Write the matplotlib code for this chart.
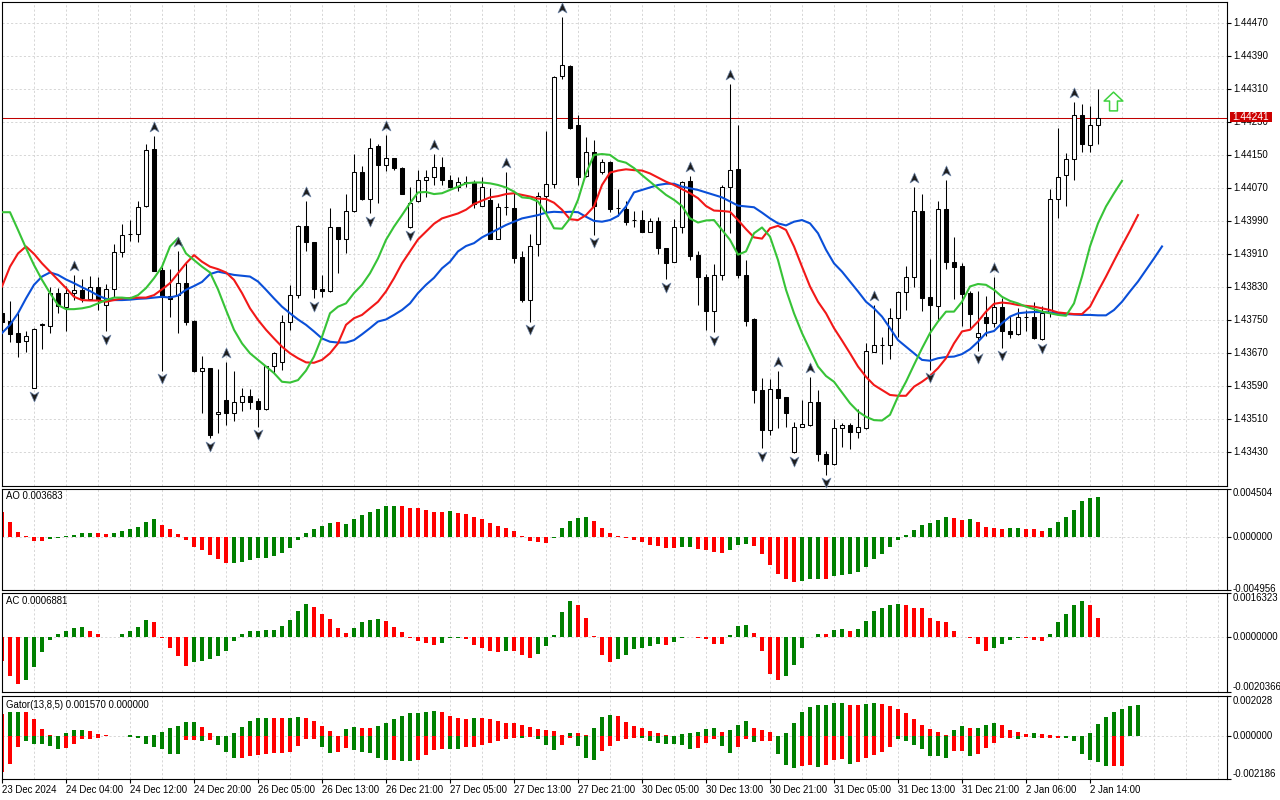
import matplotlib
matplotlib.use("Agg")
import matplotlib.pyplot as plt
import numpy as np
from matplotlib.path import Path
from matplotlib.patches import Rectangle
from matplotlib import transforms

plt.rcParams['font.family'] = ['Liberation Sans', 'DejaVu Sans']

# ---------------- data (H1 candles) ----------------
opens = [1.43767, 1.43748, 1.43718, 1.43699, 1.43587, 1.43739, 1.43736, 1.43816, 1.43782, 1.43816,
         1.43823, 1.43801, 1.43830, 1.43786, 1.43825, 1.43915, 1.43958, 1.43958, 1.44026, 1.44165,
         1.43872, 1.43809, 1.43811, 1.43841, 1.43748, 1.43627, 1.43635, 1.43522, 1.43557, 1.43525,
         1.43553, 1.43566, 1.43554, 1.43534, 1.43638, 1.43648, 1.43745, 1.43811, 1.43978, 1.43939,
         1.43826, 1.43820, 1.43975, 1.43946, 1.44014, 1.44109, 1.44043, 1.44173, 1.44126, 1.44143,
         1.44119, 1.43975, 1.44038, 1.44089, 1.44097, 1.44121, 1.44090, 1.44074, 1.44086, 1.44084,
         1.44028, 1.44042, 1.43948, 1.44024, 1.44022, 1.43904, 1.43799, 1.43934, 1.44052, 1.44080,
         1.44341, 1.44367, 1.44223, 1.44100, 1.44159, 1.44110, 1.44133, 1.44022, 1.44020, 1.43993,
         1.43993, 1.43965, 1.43991, 1.43925, 1.43892, 1.43975, 1.44088, 1.43908, 1.43856, 1.43773,
         1.43859, 1.44074, 1.44116, 1.43860, 1.43753, 1.43581, 1.43483, 1.43584, 1.43563, 1.43430,
         1.43492, 1.43496, 1.43551, 1.43426, 1.43401, 1.43488, 1.43495, 1.43478, 1.43488, 1.43674,
         1.43689, 1.43690, 1.43755, 1.43818, 1.43854, 1.44015, 1.43806, 1.43785, 1.44019, 1.43892,
         1.43882, 1.43816, 1.43709, 1.43759, 1.43744, 1.43782, 1.43724, 1.43716, 1.43759, 1.43757,
         1.43705, 1.43767, 1.44043, 1.44102, 1.44140, 1.44248, 1.44174, 1.44223]
highs = [1.43779, 1.43797, 1.43767, 1.43724, 1.43731, 1.43744, 1.43830, 1.43828, 1.43832, 1.43859,
         1.43849, 1.43858, 1.43856, 1.43838, 1.43934, 1.43984, 1.43993, 1.44038, 1.44178, 1.44197,
         1.43880, 1.43875, 1.43919, 1.43888, 1.43751, 1.43664, 1.43635, 1.43631, 1.43650, 1.43626,
         1.43585, 1.43584, 1.43561, 1.43639, 1.43674, 1.43763, 1.43836, 1.43980, 1.44040, 1.43940,
         1.43859, 1.44022, 1.43977, 1.44056, 1.44153, 1.44124, 1.44191, 1.44178, 1.44199, 1.44144,
         1.44121, 1.44072, 1.44114, 1.44114, 1.44153, 1.44145, 1.44102, 1.44098, 1.44100, 1.44090,
         1.44098, 1.44070, 1.44035, 1.44110, 1.44058, 1.43917, 1.43959, 1.44060, 1.44209, 1.44341,
         1.44486, 1.44369, 1.44248, 1.44195, 1.44187, 1.44140, 1.44135, 1.44068, 1.44038, 1.44016,
         1.44018, 1.43997, 1.44001, 1.43926, 1.43996, 1.44088, 1.44100, 1.43919, 1.43862, 1.43887,
         1.44078, 1.44323, 1.44224, 1.43895, 1.43755, 1.43609, 1.43608, 1.43627, 1.43565, 1.43504,
         1.43557, 1.43613, 1.43581, 1.43432, 1.43510, 1.43500, 1.43500, 1.43534, 1.43696, 1.43787,
         1.43709, 1.43779, 1.43822, 1.43882, 1.44074, 1.44056, 1.43899, 1.44039, 1.44089, 1.43951,
         1.43890, 1.43821, 1.43820, 1.43810, 1.43854, 1.43805, 1.43761, 1.43779, 1.43775, 1.43795,
         1.43785, 1.44068, 1.44215, 1.44155, 1.44280, 1.44274, 1.44270, 1.44310]
lows = [1.43739, 1.43698, 1.43660, 1.43674, 1.43585, 1.43681, 1.43720, 1.43767, 1.43725, 1.43799,
        1.43794, 1.43799, 1.43775, 1.43723, 1.43807, 1.43904, 1.43943, 1.43939, 1.44024, 1.43869,
        1.43628, 1.43759, 1.43719, 1.43739, 1.43624, 1.43526, 1.43464, 1.43476, 1.43496, 1.43507,
        1.43529, 1.43534, 1.43492, 1.43532, 1.43623, 1.43630, 1.43727, 1.43803, 1.43917, 1.43803,
        1.43807, 1.43818, 1.43864, 1.43912, 1.44013, 1.44042, 1.44009, 1.44034, 1.44113, 1.44114,
        1.44055, 1.43974, 1.44037, 1.44050, 1.44078, 1.44077, 1.44070, 1.44064, 1.44074, 1.44022,
        1.44026, 1.43946, 1.43947, 1.44005, 1.43890, 1.43795, 1.43747, 1.43907, 1.44009, 1.44070,
        1.44334, 1.44214, 1.44077, 1.44098, 1.43957, 1.44104, 1.44013, 1.44003, 1.43980, 1.43977,
        1.43963, 1.43963, 1.43911, 1.43849, 1.43891, 1.43961, 1.43895, 1.43786, 1.43727, 1.43721,
        1.43848, 1.43961, 1.43852, 1.43736, 1.43549, 1.43440, 1.43472, 1.43488, 1.43492, 1.43428,
        1.43491, 1.43494, 1.43409, 1.43375, 1.43399, 1.43444, 1.43437, 1.43464, 1.43487, 1.43672,
        1.43643, 1.43655, 1.43709, 1.43775, 1.43830, 1.43773, 1.43630, 1.43749, 1.43874, 1.43801,
        1.43736, 1.43731, 1.43676, 1.43713, 1.43733, 1.43684, 1.43706, 1.43714, 1.43724, 1.43705,
        1.43702, 1.43759, 1.43997, 1.44026, 1.44089, 1.44159, 1.44159, 1.44177]
closes = [1.43747, 1.43716, 1.43698, 1.43712, 1.43729, 1.43740, 1.43816, 1.43785, 1.43816, 1.43823,
          1.43803, 1.43830, 1.43801, 1.43825, 1.43915, 1.43956, 1.43958, 1.44024, 1.44162, 1.43870,
          1.43807, 1.43801, 1.43840, 1.43747, 1.43626, 1.43634, 1.43472, 1.43527, 1.43525, 1.43551,
          1.43566, 1.43553, 1.43534, 1.43638, 1.43670, 1.43745, 1.43811, 1.43978, 1.43939, 1.43825,
          1.43820, 1.43975, 1.43946, 1.44014, 1.44109, 1.44044, 1.44167, 1.44126, 1.44143, 1.44118,
          1.44056, 1.44035, 1.44089, 1.44097, 1.44121, 1.44089, 1.44072, 1.44086, 1.44084, 1.44032,
          1.44074, 1.43948, 1.44024, 1.44024, 1.43902, 1.43799, 1.43931, 1.44051, 1.44080, 1.44339,
          1.44368, 1.44215, 1.44098, 1.44159, 1.44028, 1.44133, 1.44020, 1.44022, 1.43989, 1.43992,
          1.43965, 1.43990, 1.43925, 1.43890, 1.43975, 1.44086, 1.43907, 1.43854, 1.43773, 1.43859,
          1.44072, 1.44114, 1.43860, 1.43749, 1.43580, 1.43483, 1.43583, 1.43561, 1.43526, 1.43491,
          1.43499, 1.43551, 1.43425, 1.43401, 1.43488, 1.43495, 1.43478, 1.43491, 1.43676, 1.43689,
          1.43689, 1.43755, 1.43818, 1.43854, 1.44015, 1.43805, 1.43786, 1.44019, 1.43892, 1.43880,
          1.43814, 1.43765, 1.43719, 1.43744, 1.43782, 1.43723, 1.43716, 1.43757, 1.43759, 1.43706,
          1.43767, 1.44043, 1.44098, 1.44140, 1.44248, 1.44177, 1.44223, 1.44241]

# Alligator (already shifted forward: lips +3, teeth +5, jaw +8)
lips = [1.44012, 1.44012, 1.43969, 1.43925, 1.43884, 1.43848, 1.43816, 1.43787, 1.43777, 1.43777,
        1.43779, 1.43783, 1.43791, 1.43799, 1.43805, 1.43805, 1.43803, 1.43811, 1.43828, 1.43852,
        1.43880, 1.43929, 1.43949, 1.43912, 1.43896, 1.43880, 1.43866, 1.43825, 1.43775, 1.43727,
        1.43694, 1.43670, 1.43654, 1.43638, 1.43622, 1.43601, 1.43599, 1.43605, 1.43628, 1.43662,
        1.43710, 1.43767, 1.43783, 1.43791, 1.43816, 1.43836, 1.43864, 1.43900, 1.43945, 1.43977,
        1.44005, 1.44034, 1.44060, 1.44061, 1.44056, 1.44058, 1.44066, 1.44074, 1.44082, 1.44084,
        1.44084, 1.44082, 1.44078, 1.44072, 1.44062, 1.44048, 1.44046, 1.44038, 1.44009, 1.43973,
        1.43972, 1.43997, 1.44042, 1.44106, 1.44151, 1.44153, 1.44151, 1.44137, 1.44132, 1.44119,
        1.44102, 1.44086, 1.44070, 1.44054, 1.44042, 1.44027, 1.43997, 1.43987, 1.43992, 1.43993,
        1.43969, 1.43945, 1.43909, 1.43917, 1.43961, 1.43975, 1.43953, 1.43896, 1.43824, 1.43767,
        1.43719, 1.43678, 1.43638, 1.43615, 1.43601, 1.43575, 1.43549, 1.43529, 1.43516, 1.43508,
        1.43507, 1.43521, 1.43565, 1.43601, 1.43642, 1.43682, 1.43719, 1.43747, 1.43771, 1.43771,
        1.43795, 1.43832, 1.43838, 1.43836, 1.43824, 1.43807, 1.43797, 1.43791, 1.43783, 1.43777,
        1.43771, 1.43767, 1.43763, 1.43761, 1.43791, 1.43856, 1.43929, 1.43985, 1.44026, 1.44058,
        1.44088]
teeth = [1.43832, 1.43880, 1.43912, 1.43929, 1.43911, 1.43888, 1.43868, 1.43848, 1.43828, 1.43807,
         1.43799, 1.43798, 1.43798, 1.43795, 1.43799, 1.43803, 1.43804, 1.43805, 1.43805, 1.43811,
         1.43825, 1.43840, 1.43864, 1.43888, 1.43908, 1.43892, 1.43880, 1.43874, 1.43866, 1.43848,
         1.43816, 1.43779, 1.43751, 1.43727, 1.43706, 1.43686, 1.43670, 1.43658, 1.43648, 1.43647,
         1.43654, 1.43670, 1.43694, 1.43739, 1.43755, 1.43763, 1.43779, 1.43795, 1.43820, 1.43852,
         1.43888, 1.43917, 1.43946, 1.43965, 1.43984, 1.43997, 1.44003, 1.44009, 1.44018, 1.44032,
         1.44040, 1.44048, 1.44051, 1.44056, 1.44058, 1.44054, 1.44050, 1.44045, 1.44044, 1.44035,
         1.44018, 1.43995, 1.43993, 1.44005, 1.44026, 1.44078, 1.44108, 1.44113, 1.44116, 1.44114,
         1.44113, 1.44106, 1.44096, 1.44086, 1.44078, 1.44068, 1.44058, 1.44046, 1.44027, 1.44016,
         1.44015, 1.44013, 1.43993, 1.43971, 1.43951, 1.43948, 1.43973, 1.43979, 1.43969, 1.43929,
         1.43880, 1.43832, 1.43795, 1.43767, 1.43731, 1.43701, 1.43670, 1.43638, 1.43613, 1.43593,
         1.43581, 1.43569, 1.43567, 1.43567, 1.43589, 1.43601, 1.43615, 1.43634, 1.43658, 1.43694,
         1.43723, 1.43727, 1.43747, 1.43771, 1.43790, 1.43793, 1.43791, 1.43787, 1.43785, 1.43783,
         1.43779, 1.43775, 1.43769, 1.43767, 1.43765, 1.43765, 1.43783, 1.43820, 1.43856, 1.43894,
         1.43931, 1.43967, 1.44005]
jaw = [1.43719, 1.43739, 1.43767, 1.43803, 1.43836, 1.43856, 1.43866, 1.43860, 1.43849, 1.43840,
       1.43830, 1.43821, 1.43810, 1.43802, 1.43799, 1.43799, 1.43800, 1.43802, 1.43803, 1.43805,
       1.43807, 1.43805, 1.43810, 1.43824, 1.43833, 1.43843, 1.43862, 1.43868, 1.43864, 1.43860,
       1.43858, 1.43856, 1.43844, 1.43824, 1.43803, 1.43783, 1.43767, 1.43752, 1.43739, 1.43723,
       1.43706, 1.43698, 1.43696, 1.43696, 1.43702, 1.43716, 1.43731, 1.43747, 1.43752, 1.43763,
       1.43775, 1.43791, 1.43816, 1.43836, 1.43853, 1.43876, 1.43892, 1.43917, 1.43930, 1.43937,
       1.43951, 1.43961, 1.43971, 1.43981, 1.43989, 1.43997, 1.44001, 1.44005, 1.44011, 1.44013,
       1.44012, 1.44013, 1.44012, 1.44001, 1.43991, 1.43989, 1.43993, 1.44003, 1.44026, 1.44060,
       1.44066, 1.44072, 1.44078, 1.44081, 1.44081, 1.44074, 1.44070, 1.44066, 1.44060, 1.44054,
       1.44048, 1.44038, 1.44028, 1.44026, 1.44024, 1.44011, 1.43997, 1.43985, 1.43980, 1.43989,
       1.43993, 1.43985, 1.43961, 1.43921, 1.43888, 1.43868, 1.43844, 1.43820, 1.43795, 1.43779,
       1.43759, 1.43731, 1.43702, 1.43686, 1.43670, 1.43654, 1.43652, 1.43658, 1.43661, 1.43662,
       1.43668, 1.43680, 1.43698, 1.43719, 1.43724, 1.43743, 1.43759, 1.43767, 1.43769, 1.43770,
       1.43770, 1.43769, 1.43767, 1.43765, 1.43764, 1.43763, 1.43763, 1.43762, 1.43762, 1.43775,
       1.43795, 1.43820, 1.43844, 1.43872, 1.43900, 1.43929]

fractal_up_bars = [9, 19, 22, 28, 38, 48, 54, 63, 70, 86, 91, 97, 101, 109, 114, 118, 124, 134]
fractal_down_bars = [4, 13, 20, 26, 32, 39, 46, 51, 66, 74, 83, 89, 95, 99, 103, 116, 122, 125, 130]
signal_bar = 138.9
signal_price = 1.44281
current_price = 1.44241

ao = [0.00234, 0.00141, 0.00047, 0.00006, -0.00037, -0.00038, -0.00022, -0.00012, 0.00006, 0.00019,
      0.00037, 0.00038, 0.00036, 0.00028, 0.00029, 0.00050, 0.00069, 0.00094, 0.00141, 0.00163,
      0.00113, 0.00075, 0.00028, -0.00028, -0.00094, -0.00122, -0.00169, -0.00206, -0.00244, -0.00243,
      -0.00234, -0.00216, -0.00205, -0.00197, -0.00178, -0.00150, -0.00103, -0.00034, 0.00037, 0.00075,
      0.00103, 0.00131, 0.00132, 0.00122, 0.00163, 0.00206, 0.00234, 0.00262, 0.00290, 0.00291,
      0.00290, 0.00272, 0.00271, 0.00253, 0.00234, 0.00233, 0.00235, 0.00225, 0.00216, 0.00188,
      0.00169, 0.00131, 0.00103, 0.00084, 0.00056, 0.00009, -0.00037, -0.00047, -0.00056, -0.00016,
      0.00078, 0.00150, 0.00178, 0.00179, 0.00150, 0.00084, 0.00037, 0.00009, -0.00016, -0.00034,
      -0.00053, -0.00075, -0.00084, -0.00103, -0.00104, -0.00102, -0.00094, -0.00113, -0.00122, -0.00141,
      -0.00150, -0.00122, -0.00075, -0.00066, -0.00084, -0.00159, -0.00263, -0.00347, -0.00394, -0.00422,
      -0.00413, -0.00395, -0.00393, -0.00395, -0.00366, -0.00356, -0.00347, -0.00328, -0.00281, -0.00206,
      -0.00159, -0.00094, -0.00034, 0.00019, 0.00066, 0.00113, 0.00131, 0.00159, 0.00188, 0.00178,
      0.00159, 0.00169, 0.00141, 0.00094, 0.00084, 0.00075, 0.00084, 0.00085, 0.00075, 0.00069,
      0.00056, 0.00084, 0.00141, 0.00188, 0.00253, 0.00338, 0.00366, 0.003683]
ao_state = ("RRRRRRGGGG" "GGRRGGGGGG" "RRRRRRRRRG" "GGGGGGGGGG" "GGRGGGGGGG"
            "RRRRRRGRRR" "RRRRRRRRRG" "GGGGRRRRRR" "RRRRRGGRRR" "RGGGRRRRRR"
            "GGGRGGGGGG" "GGGGGGGGGR" "RGRRRRGGRR" "RGGGGGGG")

ac = [-0.00087, -0.00144, -0.00174, -0.00158, -0.00111, -0.00057, -0.00012, 0.00012, 0.00024, 0.00035,
      0.00036, 0.00024, 0.00012, 0.00001, -0.00001, 0.00012, 0.00024, 0.00039, 0.00065, 0.00057,
      -0.00002, -0.00040, -0.00070, -0.00109, -0.00091, -0.00087, -0.00080, -0.00072, -0.00050, -0.00014,
      0.00011, 0.00024, 0.00024, 0.00025, 0.00027, 0.00042, 0.00065, 0.00098, 0.00124, 0.00113,
      0.00087, 0.00068, 0.00035, 0.00016, 0.00035, 0.00057, 0.00065, 0.00066, 0.00061, 0.00039,
      0.00020, -0.00005, -0.00014, -0.00021, -0.00029, -0.00021, -0.00005, -0.00004, -0.00009, -0.00029,
      -0.00039, -0.00050, -0.00057, -0.00050, -0.00050, -0.00068, -0.00076, -0.00061, -0.00035, 0.00009,
      0.00091, 0.00132, 0.00117, 0.00072, 0.00004, -0.00065, -0.00091, -0.00083, -0.00068, -0.00046,
      -0.00039, -0.00035, -0.00027, -0.00028, -0.00020, -0.00005, 0.00002, -0.00005, -0.00009, -0.00024,
      -0.00025, 0.00009, 0.00042, 0.00046, 0.00016, -0.00053, -0.00136, -0.00161, -0.00143, -0.00102,
      -0.00042, 0.00001, 0.00012, 0.00011, 0.00027, 0.00028, 0.00024, 0.00031, 0.00061, 0.00098,
      0.00109, 0.00120, 0.00121, 0.00117, 0.00109, 0.00106, 0.00072, 0.00061, 0.00057, 0.00024,
      -0.00001, -0.00002, -0.00027, -0.00050, -0.00042, -0.00027, -0.00012, -0.00004, -0.00005, -0.00012,
      -0.00013, 0.00012, 0.00057, 0.00087, 0.00117, 0.00135, 0.00117, 0.0006881]
ac_state = ("RRRGGGGGGG" "GRRRRGGGGR" "RRRRGGGGGG" "GGGGGGGGGR" "RRRRGGGGRR"
            "RRRRRGGGRR" "RRRGRRRGGG" "GGRRRRRGGG" "GGGRGGGRRR" "RGGGRRRRGG"
            "GGGRGGRGGG" "GGGRRRRRRR" "RRRRGGGGRR" "RGGGGGRR")

gator_up = [0.00110, 0.00124, 0.00124, 0.00123, 0.00086, 0.00035, 0.00005, 0.00002, 0.00015, 0.00030,
            0.00031, 0.00025, 0.00010, 0.00005, 0.00001, 0.00002, 0.00005, 0.00002, 0.00001, 0.00005,
            0.00020, 0.00040, 0.00050, 0.00070, 0.00071, 0.00047, 0.00015, 0.00002, 0.00001, 0.00015,
            0.00045, 0.00076, 0.00091, 0.00092, 0.00090, 0.00089, 0.00091, 0.00096, 0.00091, 0.00076,
            0.00050, 0.00025, 0.00002, 0.00035, 0.00045, 0.00040, 0.00040, 0.00050, 0.00066, 0.00086,
            0.00100, 0.00116, 0.00117, 0.00121, 0.00126, 0.00121, 0.00101, 0.00091, 0.00086, 0.00091,
            0.00091, 0.00086, 0.00076, 0.00066, 0.00066, 0.00055, 0.00045, 0.00035, 0.00030, 0.00025,
            0.00003, 0.00015, 0.00015, 0.00005, 0.00040, 0.00096, 0.00106, 0.00101, 0.00071, 0.00050,
            0.00040, 0.00025, 0.00015, 0.00005, 0.00002, 0.00010, 0.00015, 0.00020, 0.00035, 0.00040,
            0.00020, 0.00030, 0.00055, 0.00076, 0.00042, 0.00030, 0.00020, 0.00002, 0.00015, 0.00066,
            0.00121, 0.00146, 0.00156, 0.00157, 0.00166, 0.00167, 0.00156, 0.00155, 0.00161, 0.00166,
            0.00161, 0.00151, 0.00136, 0.00116, 0.00086, 0.00055, 0.00035, 0.00020, 0.00003, 0.00030,
            0.00050, 0.00042, 0.00042, 0.00055, 0.00066, 0.00055, 0.00030, 0.00020, 0.00010, 0.00015,
            0.00010, 0.00005, 0.00002, 0.00001, 0.00001, 0.00001, 0.00015, 0.00060, 0.00096, 0.00121,
            0.00136, 0.00151, 0.00157]
gator_up_state = ("RGGRRRRRGG" "GRRRRGGRRG" "GGGGGRRRRG" "GGGGRRGGRR" "RRRGGRRGGG"
                  "GGGGGRRRRG" "RRRRRRRRRR" "RGRRGGGRRR" "RRRRRGGGGG" "RGGGRRRRGG"
                  "GGGGGGRRGG" "RRRRRRRRRG" "GRGGGRRRRG" "RRRRRRGGGG" "GGG")
gator_dn = [-0.00185, -0.00140, -0.00054, -0.00025, -0.00042, -0.00042, -0.00050, -0.00064, -0.00059, -0.00039,
            -0.00017, -0.00017, -0.00008, -0.00002, -0.00002, -0.00001, -0.00005, -0.00008, -0.00039, -0.00054,
            -0.00064, -0.00090, -0.00090, -0.00020, -0.00020, -0.00025, -0.00020, -0.00045, -0.00084, -0.00114,
            -0.00110, -0.00104, -0.00097, -0.00094, -0.00089, -0.00088, -0.00079, -0.00049, -0.00018, -0.00013,
            -0.00054, -0.00089, -0.00084, -0.00059, -0.00069, -0.00079, -0.00089, -0.00114, -0.00124, -0.00123,
            -0.00125, -0.00126, -0.00124, -0.00099, -0.00069, -0.00068, -0.00064, -0.00064, -0.00054, -0.00054,
            -0.00044, -0.00034, -0.00024, -0.00018, -0.00008, -0.00010, -0.00005, -0.00013, -0.00045, -0.00069,
            -0.00044, -0.00008, -0.00049, -0.00110, -0.00120, -0.00074, -0.00049, -0.00024, -0.00018, -0.00008,
            -0.00008, -0.00024, -0.00034, -0.00039, -0.00039, -0.00044, -0.00064, -0.00059, -0.00034, -0.00018,
            -0.00049, -0.00089, -0.00054, -0.00013, -0.00029, -0.00027, -0.00024, -0.00094, -0.00150, -0.00165,
            -0.00155, -0.00150, -0.00160, -0.00150, -0.00124, -0.00119, -0.00140, -0.00134, -0.00114, -0.00099,
            -0.00084, -0.00054, -0.00018, -0.00024, -0.00044, -0.00064, -0.00104, -0.00104, -0.00114, -0.00074,
            -0.00074, -0.00104, -0.00094, -0.00059, -0.00034, -0.00008, -0.00008, -0.00013, -0.00003, -0.00008,
            -0.00008, -0.00008, -0.00008, -0.00008, -0.00024, -0.00094, -0.00120, -0.00134, -0.00155, -0.00155,
            -0.00155, 0.0, 0.0]
gator_dn_state = ("RRRGGGGGRR" "RRRRGRGGGG" "GGGRRGRGGG" "RRRRRRRRRR" "GGRRGGGGGR"
                  "GGRRRRGGRR" "RRRRRGRGGG" "RRGGGRRRRR" "GGGGGGGRRR" "GGRRGRRGGG"
                  "RRGRRRGRRR" "RRGGGGGGGR" "RGRRRRRGRG" "RRRGGGGGGR" "RRR")

date_label_bars = [0, 8, 16, 24, 32, 40, 48, 56, 64, 72, 80, 88, 96, 104, 112, 120, 128, 136]
date_labels = ["23 Dec 2024", "24 Dec 04:00", "24 Dec 12:00", "24 Dec 20:00", "26 Dec 05:00",
               "26 Dec 13:00", "26 Dec 21:00", "27 Dec 05:00", "27 Dec 13:00", "27 Dec 21:00",
               "30 Dec 05:00", "30 Dec 13:00", "30 Dec 21:00", "31 Dec 05:00", "31 Dec 13:00",
               "31 Dec 21:00", "2 Jan 06:00", "2 Jan 14:00"]
price_ticks = [1.43430, 1.43510, 1.43590, 1.43670, 1.43750, 1.43830, 1.43910, 1.43990,
               1.44070, 1.44150, 1.44230, 1.44310, 1.44390, 1.44470]
price_tick_labels = ["1.43430", "1.43510", "1.43590", "1.43670", "1.43750", "1.43830", "1.43910",
                     "1.43990", "1.44070", "1.44150", "1.44230", "1.44310", "1.44390", "1.44470"]
ao_range = (-0.004956, 0.004504)
ac_range = (-0.0020366, 0.0016323)
gator_range = (-0.002186, 0.002028)

# ---------------- layout ----------------
W, H = 1280, 800
fig = plt.figure(figsize=(12.8, 8.0), dpi=100)
fig.patch.set_facecolor('white')


def rect(x0, y0, x1, y1):
    return [x0 / W, 1 - y1 / H, (x1 - x0) / W, (y1 - y0) / H]


ax_main = fig.add_axes(rect(2, 2, 1227, 485.5))
ax_ao = fig.add_axes(rect(2, 488.5, 1227, 589.5))
ax_ac = fig.add_axes(rect(2, 593, 1227, 692))
ax_gt = fig.add_axes(rect(2, 696, 1227, 779))
axes = [ax_main, ax_ao, ax_ac, ax_gt]

FS = 6.9
GRID = '#d6d6d6'
GREEN = '#008000'
RED = '#ff0000'
XMAX = (1227 - 2) / 8.0

for ax in axes:
    ax.set_xlim(0, XMAX)
    for s in ax.spines.values():
        s.set_color('black')
        s.set_linewidth(0.8)
    ax.tick_params(axis='x', bottom=False, labelbottom=False)
    ax.yaxis.tick_right()
    ax.tick_params(axis='y', right=True, left=False, labelright=False, labelleft=False,
                   direction='out', length=3, width=0.8)
    for gx in range(4, 154, 4):
        ax.axvline(gx, color=GRID, lw=0.7, dashes=(2.2, 2.2), zorder=0)


def right_label(ax, val, text, va='center'):
    ax.annotate(text, xy=(1, val), xycoords=('axes fraction', 'data'), xytext=(4.2, 0),
                textcoords='offset points', ha='left', va=va, fontsize=FS, color='black',
                annotation_clip=False)


# ---------------- main panel ----------------
ax_main.set_ylim(1.433495, 1.445216)
ax_main.set_yticks(price_ticks)
for v, t in zip(price_ticks, price_tick_labels):
    ax_main.axhline(v, color=GRID, lw=0.7, dashes=(2.2, 2.2), zorder=0)
    right_label(ax_main, v, t)

x = np.arange(len(closes))
o = np.array(opens)
c = np.array(closes)
hi = np.array(highs)
lo = np.array(lows)
bull = c >= o
ax_main.vlines(x, lo, hi, color='black', lw=0.75, zorder=3)
ax_main.bar(x, np.abs(c - o), bottom=np.minimum(o, c), width=0.5,
            color=np.where(bull, 'white', 'black'), edgecolor='black', linewidth=0.75, zorder=4)

ax_main.plot(np.arange(len(jaw)), jaw, color='#0a4fd8', lw=1.5, zorder=5, solid_joinstyle='round')
ax_main.plot(np.arange(len(teeth)), teeth, color='#f21818', lw=1.5, zorder=5, solid_joinstyle='round')
ax_main.plot(np.arange(len(lips)), lips, color='#37c337', lw=1.5, zorder=5, solid_joinstyle='round')

ax_main.axhline(current_price, color='#c00000', lw=0.75, zorder=2)

up_path = Path([(0, 1), (0.8, -0.8), (0, -0.3), (-0.8, -0.8), (0, 1)],
               [Path.MOVETO, Path.LINETO, Path.LINETO, Path.LINETO, Path.CLOSEPOLY])
dn_path = Path([(0, -1), (0.8, 0.8), (0, 0.3), (-0.8, 0.8), (0, -1)],
               [Path.MOVETO, Path.LINETO, Path.LINETO, Path.LINETO, Path.CLOSEPOLY])
tr_up = transforms.offset_copy(ax_main.transData, fig=fig, x=0, y=9, units='dots')
tr_dn = transforms.offset_copy(ax_main.transData, fig=fig, x=0, y=-7.5, units='dots')
ax_main.plot(fractal_up_bars, [highs[i] for i in fractal_up_bars], linestyle='none',
             marker=up_path, markersize=8, markerfacecolor='#1e1e1e', markeredgecolor='#6f86a8',
             markeredgewidth=0.5, transform=tr_up, zorder=6, clip_on=False)
ax_main.plot(fractal_down_bars, [lows[i] for i in fractal_down_bars], linestyle='none',
             marker=dn_path, markersize=8, markerfacecolor='#1e1e1e', markeredgecolor='#6f86a8',
             markeredgewidth=0.5, transform=tr_dn, zorder=6, clip_on=False)

sig_path = Path([(0, 1), (1, 0.05), (0.42, 0.05), (0.42, -1), (-0.42, -1), (-0.42, 0.05), (-1, 0.05), (0, 1)],
                [Path.MOVETO] + [Path.LINETO] * 6 + [Path.CLOSEPOLY])
ax_main.plot([signal_bar], [signal_price], linestyle='none', marker=sig_path, markersize=13.5,
             markerfacecolor='white', markeredgecolor='#3fd23f', markeredgewidth=1.1, zorder=7)

# current price tag (covers the 1.44230 label as in the terminal)
fig.add_artist(Rectangle((1229.5 / W, 1 - 122.0 / H), 42 / W, 10.0 / H, transform=fig.transFigure,
                         facecolor='#cc0000', edgecolor='none', zorder=10))
fig.text(1232 / W, 1 - 117.2 / H, f"{current_price:.5f}", color='white', fontsize=7.4,
         ha='left', va='center', zorder=11)

# ---------------- AO ----------------
cmap = {'G': GREEN, 'R': RED}
ax_ao.set_ylim(*ao_range)
ax_ao.axhline(0, color=GRID, lw=0.7, dashes=(2.2, 2.2), zorder=0)
ax_ao.bar(np.arange(len(ao)), ao, width=0.5, color=[cmap[s] for s in ao_state], linewidth=0, zorder=2)
ax_ao.set_yticks([ao_range[0], 0, ao_range[1]])
right_label(ax_ao, ao_range[1], "0.004504", va='top')
right_label(ax_ao, 0, "0.000000")
right_label(ax_ao, ao_range[0], "-0.004956")
fig.text(6 / W, 1 - 496 / H, f"AO {ao[-1]:.6f}", fontsize=FS, ha='left', va='center')

# ---------------- AC ----------------
ax_ac.set_ylim(*ac_range)
ax_ac.axhline(0, color=GRID, lw=0.7, dashes=(2.2, 2.2), zorder=0)
ax_ac.bar(np.arange(len(ac)), ac, width=0.5, color=[cmap[s] for s in ac_state], linewidth=0, zorder=2)
ax_ac.set_yticks([ac_range[0], 0, ac_range[1]])
right_label(ax_ac, ac_range[1], "0.0016323", va='top')
right_label(ax_ac, 0, "0.0000000")
right_label(ax_ac, ac_range[0], "-0.0020366", va='bottom')
fig.text(6 / W, 1 - 601.5 / H, f"AC {ac[-1]:.7f}", fontsize=FS, ha='left', va='center')

# ---------------- Gator ----------------
ax_gt.set_ylim(*gator_range)
ax_gt.axhline(0, color=GRID, lw=0.7, dashes=(2.2, 2.2), zorder=0)
ax_gt.bar(np.arange(len(gator_up)), gator_up, width=0.5,
          color=[cmap[s] for s in gator_up_state], linewidth=0, zorder=2)
ax_gt.bar(np.arange(len(gator_dn)), gator_dn, width=0.5,
          color=[cmap[s] for s in gator_dn_state], linewidth=0, zorder=2)
ax_gt.set_yticks([gator_range[0], 0, gator_range[1]])
right_label(ax_gt, gator_range[1], "0.002028", va='top')
right_label(ax_gt, 0, "0.000000")
right_label(ax_gt, gator_range[0], "-0.002186", va='bottom')
fig.text(6 / W, 1 - 704.5 / H, f"Gator(13,8,5) {gator_up[-1]:.6f} {abs(gator_dn[-1]):.6f}",
         fontsize=FS, ha='left', va='center')

ax_gt.tick_params(axis='x', bottom=True, labelbottom=True, direction='out', length=3,
                  width=0.8, labelsize=FS, pad=1.5)
ax_gt.set_xticks(date_label_bars)
ax_gt.set_xticklabels(date_labels)
for lbl in ax_gt.get_xticklabels():
    lbl.set_horizontalalignment('left')

fig.savefig('out.png', dpi=100, facecolor='white')
